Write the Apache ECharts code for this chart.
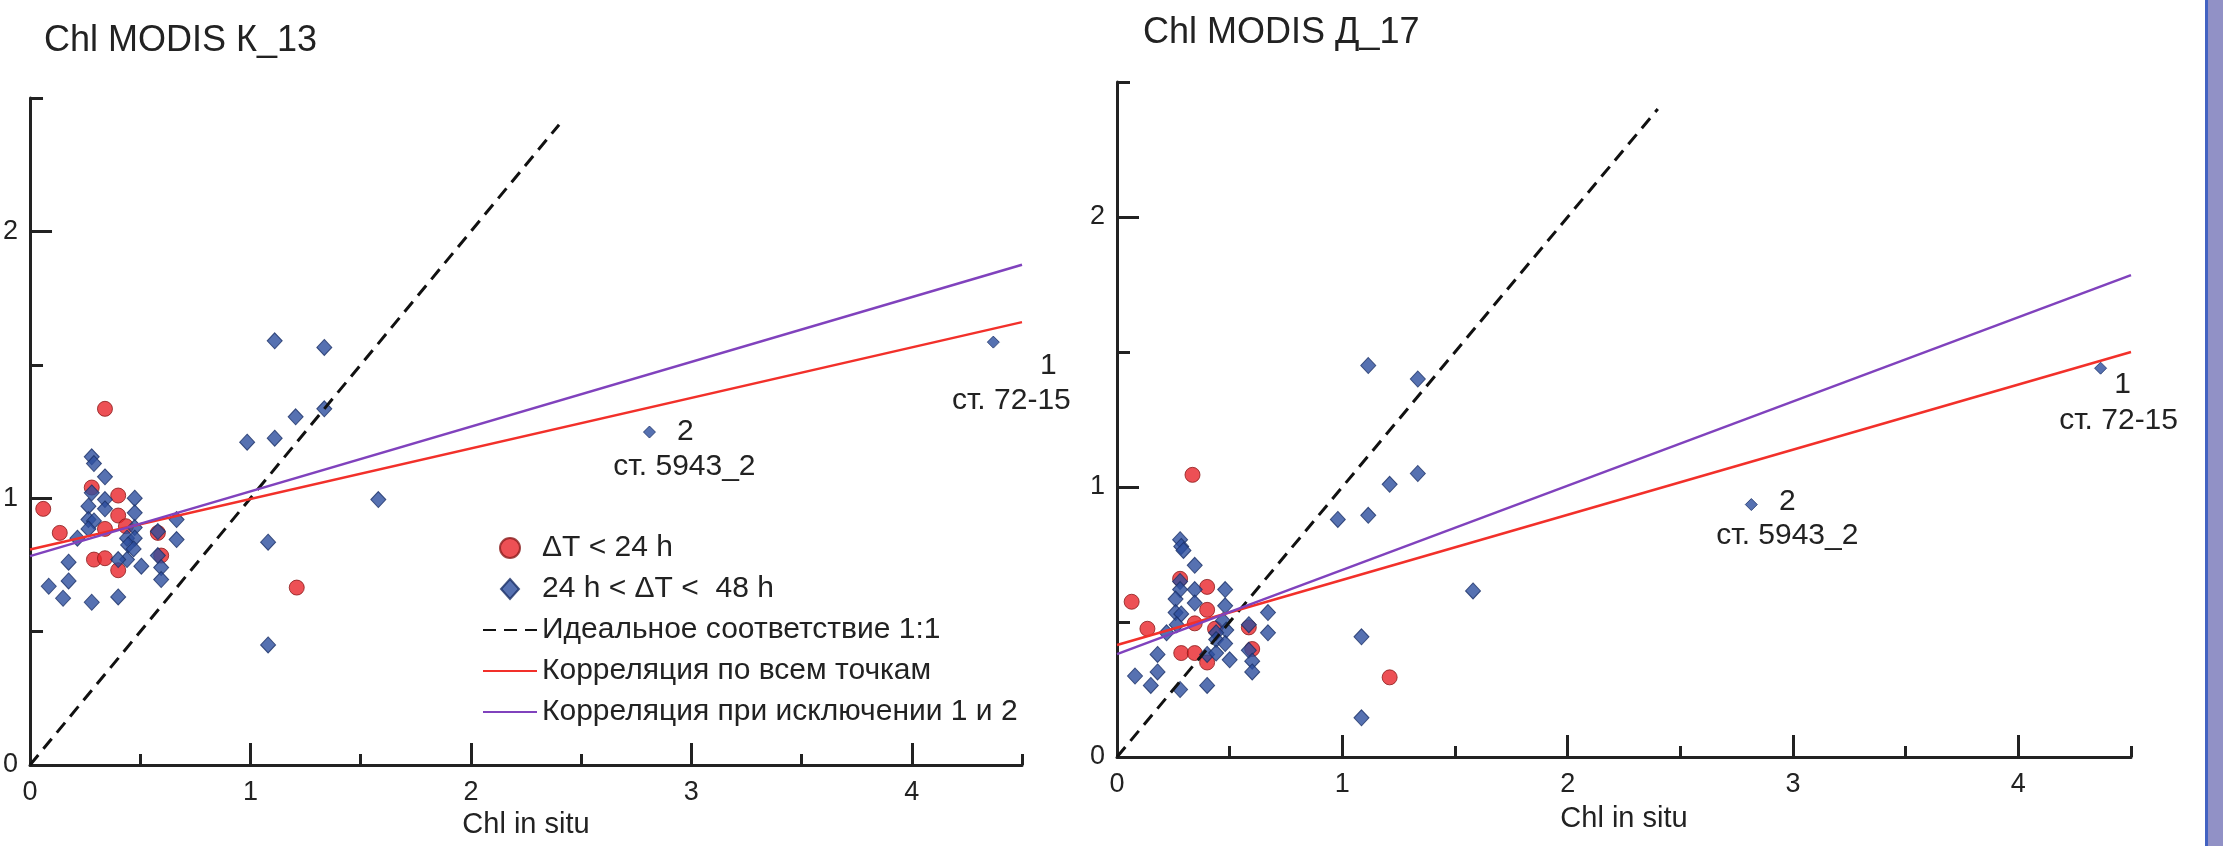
<!DOCTYPE html>
<head>
    <meta charset="utf-8">
    <title>Chl MODIS</title>
    <script src="https://cdn.jsdelivr.net/npm/echarts/dist/echarts.min.js"></script>
    <style>
        body { margin: 0; background: #fff; }
        #main { width: 2223px; height: 846px; }
    </style>
</head>
<body>
    <div id="main"></div>
    <script type="text/javascript">
        // К_13 (левый график)
        var leftRed = [[0.06,0.96],[0.135,0.87],[0.28,1.04],[0.34,1.335],[0.40,1.01],[0.40,0.935],[0.34,0.885],
            [0.435,0.895],[0.29,0.77],[0.34,0.775],[0.40,0.73],[0.58,0.87],[0.595,0.785],[1.21,0.665]];
        var leftBlue = [[0.28,1.155],[0.29,1.13],[0.34,1.08],[0.28,1.02],[0.34,0.995],[0.475,1.0],[0.265,0.97],
            [0.34,0.96],[0.475,0.945],[0.265,0.92],[0.29,0.915],[0.265,0.885],[0.215,0.85],[0.475,0.89],[0.44,0.85],
            [0.475,0.85],[0.445,0.825],[0.47,0.81],[0.58,0.875],[0.665,0.92],[0.665,0.845],[0.58,0.785],[0.595,0.74],
            [0.595,0.695],[0.44,0.77],[0.40,0.77],[0.505,0.745],[0.175,0.76],[0.175,0.69],[0.085,0.67],[0.15,0.625],
            [0.28,0.61],[0.40,0.63],[0.985,1.21],[1.11,1.225],[1.205,1.305],[1.335,1.335],[1.08,0.835],[1.08,0.45],
            [1.58,0.995],[1.335,1.565],[1.11,1.59]];
        var leftOut = [[4.37,1.585],[2.81,1.248]];   // точки 1 и 2
        var leftFitAll = [[0,0.808],[4.5,1.66]];
        var leftFitExcl = [[0,0.783],[4.5,1.875]];

        // Д_17 (правый график)
        var rightRed = [[0.065,0.575],[0.135,0.475],[0.28,0.66],[0.335,1.045],[0.40,0.63],[0.40,0.545],[0.345,0.495],
            [0.435,0.475],[0.285,0.385],[0.345,0.385],[0.40,0.35],[0.585,0.48],[0.60,0.40],[1.21,0.295]];
        var rightBlue = [[0.28,0.805],[0.285,0.78],[0.295,0.765],[0.345,0.71],[0.28,0.65],[0.28,0.62],[0.345,0.62],
            [0.48,0.62],[0.26,0.585],[0.345,0.57],[0.48,0.56],[0.26,0.535],[0.285,0.53],[0.265,0.49],[0.22,0.46],
            [0.47,0.505],[0.485,0.47],[0.44,0.46],[0.44,0.435],[0.48,0.42],[0.585,0.49],[0.67,0.535],[0.67,0.46],
            [0.585,0.395],[0.60,0.355],[0.60,0.315],[0.40,0.38],[0.44,0.385],[0.50,0.36],[0.18,0.38],[0.18,0.315],
            [0.08,0.3],[0.15,0.265],[0.28,0.25],[0.40,0.265],[0.98,0.88],[1.115,0.895],[1.085,0.445],[1.085,0.145],
            [1.58,0.615],[1.115,1.45],[1.335,1.4],[1.21,1.01],[1.335,1.05]];
        var rightOut = [[4.365,1.44],[2.815,0.935]];
        var rightFitAll = [[0,0.415],[4.5,1.50]];
        var rightFitExcl = [[0,0.381],[4.5,1.785]];

        var ideal = [[0,0],[2.4,2.4]];
        var xMajor = [0,1,2,3,4], xMinor = [0.5,1.5,2.5,3.5,4.5];
        var yMajor = [0,1,2], yMinor = [0.5,1.5,2.5];
        var names = ['ΔT < 24 h', '24 h < ΔT <  48 h', 'Идеальное соответствие 1:1',
            'Корреляция по всем точкам', 'Корреляция при исключении 1 и 2'];

        var FONT = 'Liberation Sans, Arial, sans-serif';
        var INK = '#222';
        var myChart = echarts.init(document.getElementById('main'));

        function xAxes(grid) {
            return [
                { gridIndex: grid, type: 'value', min: 0, max: 4.5, position: 'bottom',
                  name: 'Chl in situ', nameLocation: 'middle', nameGap: grid ? 47 : 44,
                  nameTextStyle: { fontSize: 29, color: INK, fontFamily: FONT },
                  axisLine: { onZero: false, lineStyle: { color: INK, width: 3 } },
                  axisTick: { inside: true, length: 22, customValues: xMajor, lineStyle: { width: 3, color: INK } },
                  axisLabel: { customValues: xMajor, margin: 14, fontSize: 27, color: INK, fontFamily: FONT },
                  splitLine: { show: false } },
                { gridIndex: grid, type: 'value', min: 0, max: 4.5, position: 'bottom',
                  axisLine: { show: false },
                  axisTick: { inside: true, length: 11, customValues: xMinor, lineStyle: { width: 3, color: INK } },
                  axisLabel: { show: false }, splitLine: { show: false } }
            ];
        }
        function yAxes(grid) {
            return [
                { gridIndex: grid, type: 'value', min: 0, max: 2.5, position: 'left',
                  axisLine: { onZero: false, lineStyle: { color: INK, width: 3 } },
                  axisTick: { inside: true, length: 22, customValues: yMajor, lineStyle: { width: 3, color: INK } },
                  axisLabel: { customValues: yMajor, margin: 12, fontSize: 27, color: INK, fontFamily: FONT },
                  splitLine: { show: false } },
                { gridIndex: grid, type: 'value', min: 0, max: 2.5, position: 'left',
                  axisLine: { show: false },
                  axisTick: { inside: true, length: 13, customValues: yMinor, lineStyle: { width: 3, color: INK } },
                  axisLabel: { show: false }, splitLine: { show: false } }
            ];
        }

        function note(pt, text, off) {
            return { coord: pt, label: { formatter: text, offset: off } };
        }

        function fitLine(ax, name, data, style) {
            return { name: name, type: 'line', xAxisIndex: ax, yAxisIndex: ax, data: data,
                     symbol: 'none', showSymbol: false, itemStyle: { color: style.color, opacity: 0 },
                     lineStyle: style, z: 3 };
        }

        function panel(ax, red, blue, out, fitAll, fitExcl, notes) {
            return [
                { name: names[0], type: 'scatter', xAxisIndex: ax, yAxisIndex: ax, data: red,
                  symbol: 'circle', symbolSize: 15,
                  itemStyle: { color: '#e8242a', borderColor: '#8a1a1a', borderWidth: 1 } },
                { name: names[1], type: 'scatter', xAxisIndex: ax, yAxisIndex: ax,
                  data: blue.concat(out.map(function (p) { return { value: p, symbolSize: [12, 12] }; })),
                  symbol: 'diamond', symbolSize: [15, 16],
                  itemStyle: { color: '#2c4d9e', borderColor: '#1a2f66', borderWidth: 1 },
                  markPoint: { symbol: 'circle', symbolSize: 0, silent: true,
                      label: { show: true, color: INK, fontSize: 30, fontFamily: FONT },
                      data: notes } },
                fitLine(ax, names[2], ideal, { color: '#111', width: 3, type: [13, 8] }),
                fitLine(ax, names[3], fitAll, { color: '#f2302a', width: 2.5 }),
                fitLine(ax, names[4], fitExcl, { color: '#8042bd', width: 2.5 })
            ];
        }

        var option = {
            animation: false,
            backgroundColor: '#fff',
            title: [
                { text: 'Chl MODIS К_13', left: 39, top: 18,
                  textStyle: { fontSize: 36, fontWeight: 'normal', color: INK, fontFamily: FONT } },
                { text: 'Chl MODIS Д_17', left: 1138, top: 10,
                  textStyle: { fontSize: 36, fontWeight: 'normal', color: INK, fontFamily: FONT } }
            ],
            legend: {
                data: [
                    { name: names[0], icon: 'circle' },
                    { name: names[1], icon: 'path://M10,0 L19,10 L10,20 L1,10 Z' },
                    { name: names[2], itemStyle: { opacity: 0 } },
                    { name: names[3], itemStyle: { opacity: 0 } },
                    { name: names[4], itemStyle: { opacity: 0 } }
                ],
                orient: 'vertical', left: 477, top: 528,
                itemWidth: 54, itemHeight: 20, itemGap: 11,
                symbolKeepAspect: true,
                selectedMode: false,
                textStyle: { fontSize: 30, color: INK, fontFamily: FONT, lineHeight: 30 }
            },
            grid: [
                { left: 21, top: 98, width: 1001, height: 667 },
                { left: 1117, top: 82, width: 1014, height: 675 }
            ],
            xAxis: xAxes(0).concat(xAxes(1)),
            yAxis: yAxes(0).concat(yAxes(1)),
            graphic: [
                { type: 'rect', left: 2205, top: 0, shape: { width: 18, height: 846 }, style: { fill: '#9191c6' } },
                { type: 'rect', left: 2205, top: 0, shape: { width: 3, height: 846 }, style: { fill: '#4262c2' } }
            ],
            series: panel(0, leftRed, leftBlue, leftOut, leftFitAll, leftFitExcl, [
                    note(leftOut[1], '2', [36, 0]), note(leftOut[1], 'ст. 5943_2', [35, 35]),
                    note(leftOut[0], '1', [55, 24]), note(leftOut[0], 'ст. 72-15', [18, 59])
                ]).concat(panel(2, rightRed, rightBlue, rightOut, rightFitAll, rightFitExcl, [
                    note(rightOut[1], '2', [36, -3]), note(rightOut[1], 'ст. 5943_2', [36, 31]),
                    note(rightOut[0], '1', [22, 17]), note(rightOut[0], 'ст. 72-15', [18, 53])
                ]))
        };

        myChart.setOption(option);
    </script>
</body>
